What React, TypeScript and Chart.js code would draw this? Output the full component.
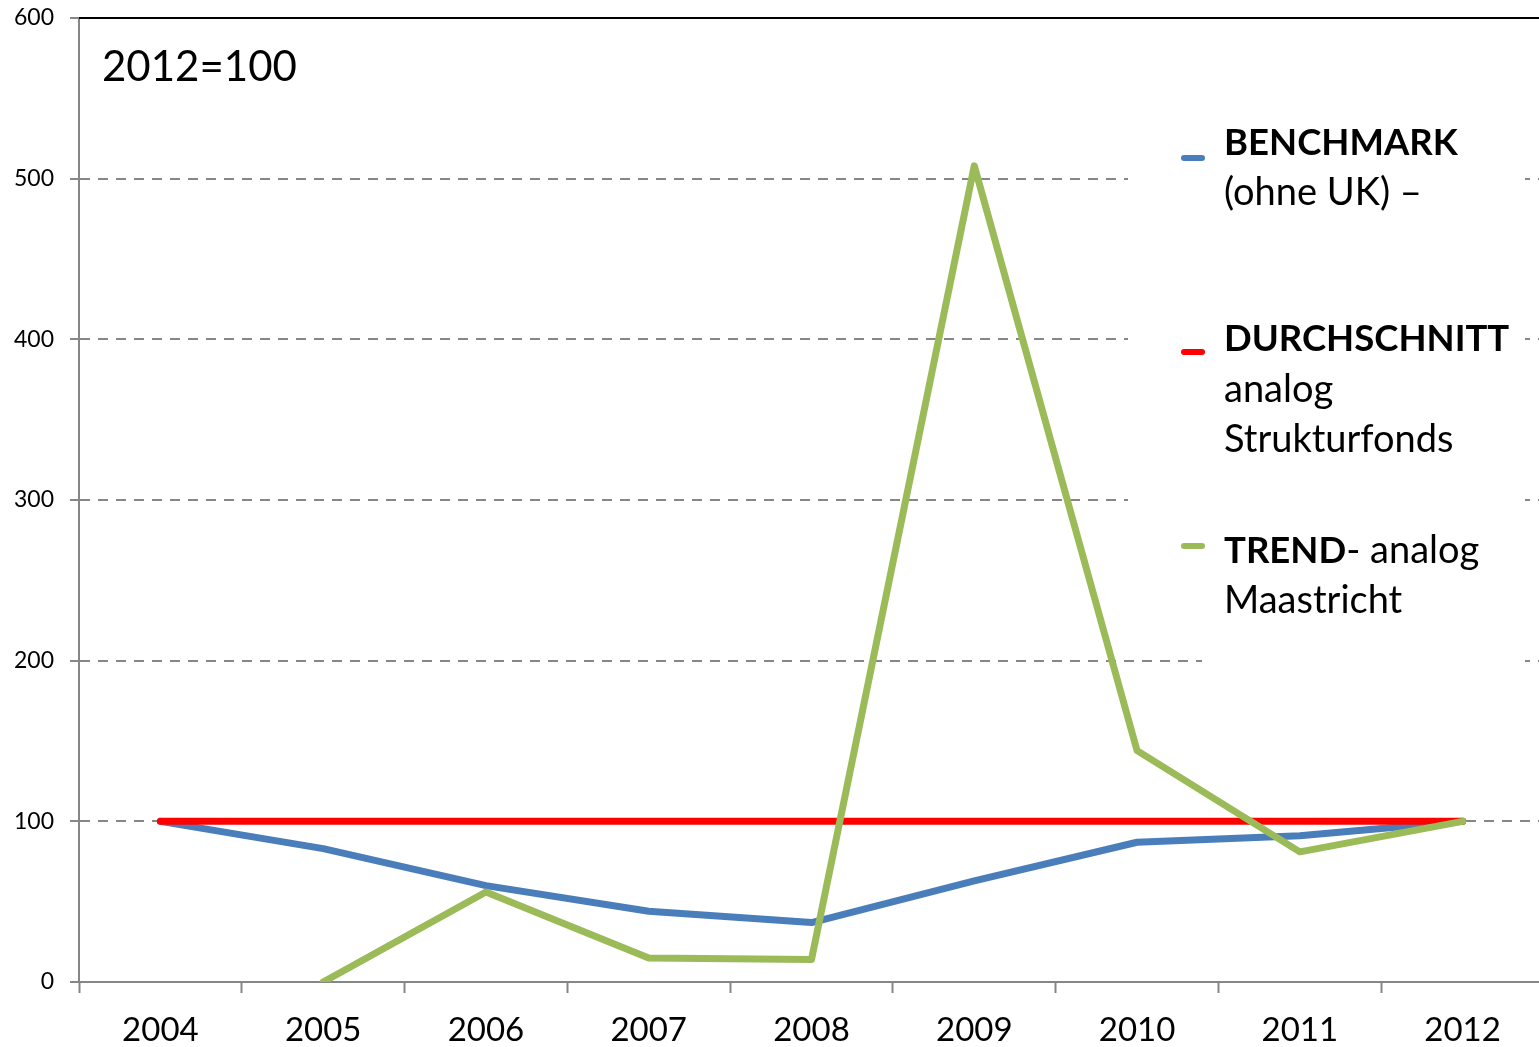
import React, { useEffect, useRef } from "react";
import { Chart, registerables } from "chart.js";

Chart.register(...registerables);

const categories = ["2004", "2005", "2006", "2007", "2008", "2009", "2010", "2011", "2012"];
const benchmark = [100, 83, 60, 44, 37, 63, 87, 91, 100];
const durchschnitt = [100, 100, 100, 100, 100, 100, 100, 100, 100];
const trend = [null, 0, 56, 15, 14, 508, 144, 81, 100];
const yTicks = [0, 100, 200, 300, 400, 500, 600];
const title = "2012=100";

const FONT = "Lato, 'Open Sans', sans-serif";
const GRID = "#868686";

type Run = { t: string; b: boolean };
const legendItems: { color: string; markerY: number; lines: { y: number; runs: Run[] }[] }[] = [
  {
    color: "#4A7EBB",
    markerY: 158,
    lines: [
      { y: 143, runs: [{ t: "BENCHMARK", b: true }] },
      { y: 193, runs: [{ t: "(ohne UK) –", b: false }] },
    ],
  },
  {
    color: "#FF0000",
    markerY: 352,
    lines: [
      { y: 339, runs: [{ t: "DURCHSCHNITT", b: true }] },
      { y: 390, runs: [{ t: "analog", b: false }] },
      { y: 440, runs: [{ t: "Strukturfonds", b: false }] },
    ],
  },
  {
    color: "#9BBB59",
    markerY: 546,
    lines: [
      { y: 551, runs: [{ t: "TREND", b: true }, { t: "- analog", b: false }] },
      { y: 601, runs: [{ t: "Maastricht", b: false }] },
    ],
  },
];

const overlayPlugin = {
  id: "overlay",
  beforeDatasetsDraw(chart: any) {
    const ctx = chart.ctx;
    const y = chart.scales.y;
    ctx.save();
    ctx.fillStyle = "#ffffff";
    ctx.fillRect(1128, y.getPixelForValue(520), 1525 - 1128, y.getPixelForValue(280) - y.getPixelForValue(520));
    ctx.fillRect(1202, y.getPixelForValue(215), 1525 - 1202, y.getPixelForValue(185) - y.getPixelForValue(215));
    ctx.strokeStyle = "#000000";
    ctx.lineWidth = 2;
    ctx.beginPath();
    ctx.moveTo(chart.chartArea.left, chart.chartArea.top);
    ctx.lineTo(chart.chartArea.right, chart.chartArea.top);
    ctx.stroke();
    ctx.restore();
  },
  afterDraw(chart: any) {
    const ctx = chart.ctx;
    ctx.save();
    ctx.textBaseline = "middle";
    ctx.fillStyle = "#000000";
    ctx.font = `42px ${FONT}`;
    ctx.fillText(title, 102, 67);
    for (const item of legendItems) {
      ctx.strokeStyle = item.color;
      ctx.lineWidth = 6;
      ctx.lineCap = "round";
      ctx.beginPath();
      ctx.moveTo(1184, item.markerY);
      ctx.lineTo(1202, item.markerY);
      ctx.stroke();
      for (const line of item.lines) {
        let x = 1224;
        for (const r of line.runs) {
          ctx.font = r.b ? `bold 36.5px ${FONT}` : `38px ${FONT}`;
          ctx.fillStyle = "#000000";
          ctx.fillText(r.t, x, line.y);
          x += ctx.measureText(r.t).width;
        }
      }
    }
    ctx.restore();
  },
};

export default function App() {
  const ref = useRef<HTMLCanvasElement | null>(null);
  useEffect(() => {
    document.body.style.margin = "0";
    const common = {
      borderWidth: 7,
      pointRadius: 0,
      borderCapStyle: "round",
      borderJoinStyle: "round",
    };
    const chart = new Chart(ref.current as HTMLCanvasElement, {
      type: "line",
      data: {
        labels: categories,
        datasets: [
          {
            label: "BENCHMARK (ohne UK) –",
            data: benchmark,
            borderColor: "#4A7EBB",
            backgroundColor: "#4A7EBB",
            order: 3,
            ...common,
          },
          {
            label: "DURCHSCHNITT analog Strukturfonds",
            data: durchschnitt,
            borderColor: "#FF0000",
            backgroundColor: "#FF0000",
            order: 2,
            ...common,
          },
          {
            label: "TREND- analog Maastricht",
            data: trend,
            borderColor: "#9BBB59",
            backgroundColor: "#9BBB59",
            order: 1,
            ...common,
          },
        ],
      },
      options: {
        animation: false,
        responsive: false,
        maintainAspectRatio: false,
        layout: { padding: { left: 0, top: 18, right: 1, bottom: 0 } },
        plugins: { legend: { display: false }, tooltip: { enabled: false } },
        scales: {
          x: {
            offset: true,
            grid: {
              offset: true,
              drawOnChartArea: false,
              drawTicks: true,
              tickLength: 11,
              tickColor: GRID,
              tickWidth: 2,
            },
            border: { display: true, color: GRID, width: 2 },
            ticks: {
              color: "#000000",
              font: { family: FONT, size: 33 },
              padding: 18,
              maxRotation: 0,
              autoSkip: false,
            },
            afterFit(scale: any) {
              scale.height = 65;
              scale.paddingLeft = 0;
              scale.paddingRight = 0;
            },
          },
          y: {
            min: 0,
            max: 600,
            afterBuildTicks(scale: any) {
              scale.ticks = yTicks.map((v) => ({ value: v }));
            },
            grid: {
              color: (c: any) => (c.tick && (c.tick.value === 0 || c.tick.value === 600) ? "rgba(0,0,0,0)" : GRID),
              lineWidth: 2,
              drawTicks: true,
              tickLength: 9,
              tickColor: GRID,
              tickWidth: 2,
            },
            border: { display: true, color: GRID, width: 2, dash: [10, 8] },
            ticks: {
              color: "#000000",
              font: { family: FONT, size: 23 },
              padding: 16,
            },
            afterFit(scale: any) {
              scale.width = 79;
              scale.paddingTop = 0;
              scale.paddingBottom = 0;
            },
          },
        },
      },
      plugins: [overlayPlugin],
    } as any);
    return () => chart.destroy();
  }, []);
  return (
    <div style={{ width: 1539, height: 1047, overflow: "hidden" }}>
      <canvas ref={ref} width={1545} height={1047} style={{ display: "block", width: 1545, height: 1047 }} />
    </div>
  );
}
